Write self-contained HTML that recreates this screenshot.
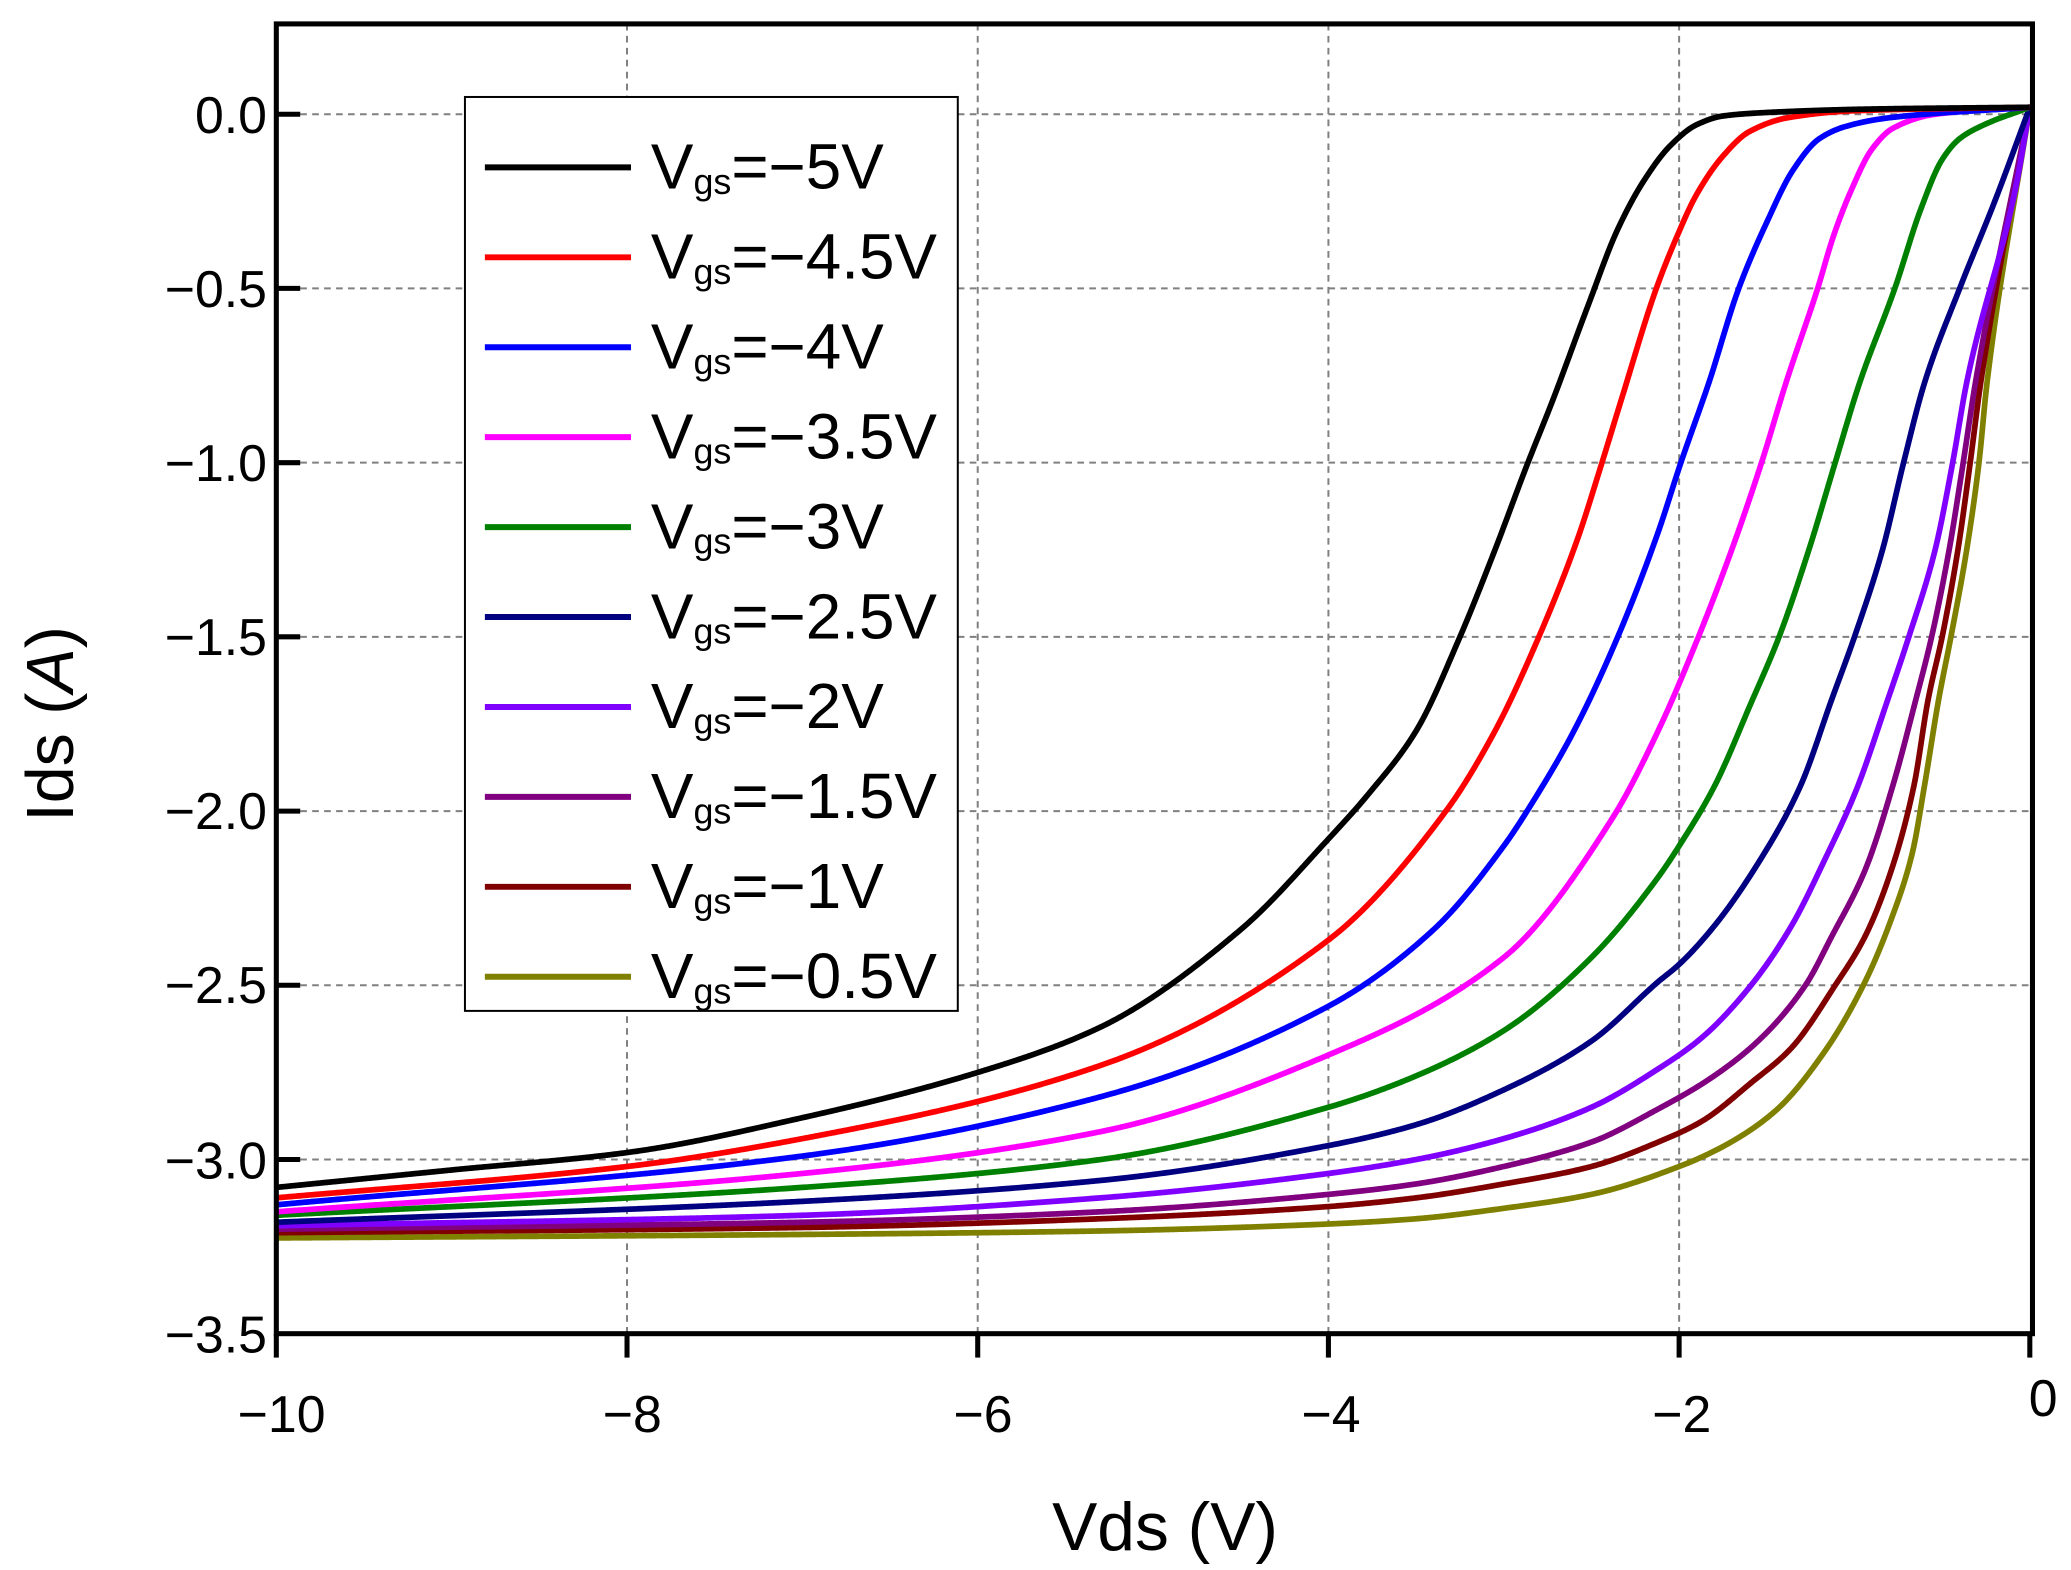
<!DOCTYPE html>
<html><head><meta charset="utf-8"><style>
html,body{margin:0;padding:0;background:#fff;}
svg{display:block;}
text{font-family:"Liberation Sans",Arial,sans-serif;fill:#000;}
</style></head><body>
<svg id="s" width="2071" height="1570" viewBox="0 0 1559 1181.9" preserveAspectRatio="none" xmlns="http://www.w3.org/2000/svg">
<g stroke="#808080" stroke-width="1.5" stroke-dasharray="5,4" fill="none">
<line x1="472" y1="18" x2="472" y2="1004"/><line x1="736" y1="18" x2="736" y2="1004"/><line x1="1000" y1="18" x2="1000" y2="1004"/><line x1="1264" y1="18" x2="1264" y2="1004"/>
<line x1="208" y1="86" x2="1530" y2="86"/><line x1="208" y1="217.1" x2="1530" y2="217.1"/><line x1="208" y1="348.3" x2="1530" y2="348.3"/><line x1="208" y1="479.4" x2="1530" y2="479.4"/><line x1="208" y1="610.6" x2="1530" y2="610.6"/><line x1="208" y1="741.7" x2="1530" y2="741.7"/><line x1="208" y1="872.9" x2="1530" y2="872.9"/>
</g>
<g id="curves" fill="none" stroke-width="4.3" stroke-linejoin="round" stroke-linecap="butt"></g>
<rect x="208" y="18" width="1322" height="986" fill="none" stroke="#000" stroke-width="3.8"/>
<g stroke="#000" stroke-width="3.8">
<line x1="208" y1="86" x2="226" y2="86"/><line x1="208" y1="217.1" x2="226" y2="217.1"/><line x1="208" y1="348.3" x2="226" y2="348.3"/><line x1="208" y1="479.4" x2="226" y2="479.4"/><line x1="208" y1="610.6" x2="226" y2="610.6"/><line x1="208" y1="741.7" x2="226" y2="741.7"/><line x1="208" y1="872.9" x2="226" y2="872.9"/>
<line x1="208" y1="1004" x2="208" y2="1022"/><line x1="472" y1="1004" x2="472" y2="1022"/><line x1="736" y1="1004" x2="736" y2="1022"/><line x1="1000" y1="1004" x2="1000" y2="1022"/><line x1="1264" y1="1004" x2="1264" y2="1022"/><line x1="1528" y1="1004" x2="1528" y2="1022"/>
</g>
<g font-size="39" text-anchor="end">
<text x="201" y="100">0.0</text><text x="201" y="231">−0.5</text><text x="201" y="362">−1.0</text><text x="201" y="493">−1.5</text><text x="201" y="624">−2.0</text><text x="201" y="755">−2.5</text><text x="201" y="887">−3.0</text><text x="201" y="1018">−3.5</text>
</g>
<g font-size="39" text-anchor="middle">
<text x="212" y="1078">−10</text><text x="476" y="1078">−8</text><text x="740" y="1078">−6</text><text x="1002" y="1078">−4</text><text x="1266" y="1078">−2</text><text x="1538" y="1066">0</text>
</g>
<text x="877" y="1167" font-size="51" text-anchor="middle">Vds (V)</text>
<text transform="translate(55,545) rotate(-90)" font-size="50" text-anchor="middle">Ids (<tspan font-style="italic">A</tspan>)</text>
<rect x="350" y="73" width="371" height="688" fill="#fff" stroke="#000" stroke-width="1.5"/>
<g id="legend"></g>
</svg>
<script>
var X=function(v){return 1528+132*v;}, Y=function(i){return 86-262.3*i;};
var C=[
["#000000","−5V",[[0,0.02],[-0.9,0.015],[-1.5,0.005],[-1.75,-0.005],[-1.9,-0.03],[-2.05,-0.09],[-2.2,-0.19],[-2.35,-0.33],[-2.52,-0.55],[-2.72,-0.82],[-2.87,-1.01],[-3.05,-1.25],[-3.25,-1.5],[-3.5,-1.77],[-3.77,-1.95],[-4,-2.08],[-4.5,-2.34],[-5.3,-2.62],[-6,-2.75],[-7,-2.88],[-8,-2.98],[-9,-3.03],[-10,-3.08]]],
["#ff0000","−4.5V",[[0,0.02],[-1,0.01],[-1.38,-0.01],[-1.6,-0.05],[-1.75,-0.12],[-1.9,-0.23],[-2.02,-0.36],[-2.13,-0.5],[-2.33,-0.82],[-2.44,-1.0],[-2.58,-1.22],[-2.8,-1.5],[-3.05,-1.77],[-3.33,-2.0],[-4,-2.37],[-5.3,-2.73],[-7,-2.94],[-8,-3.02],[-10,-3.11]]],
["#0000ff","−4V",[[0,0.02],[-0.8,-0.01],[-1.05,-0.035],[-1.2,-0.07],[-1.35,-0.16],[-1.5,-0.31],[-1.66,-0.5],[-1.83,-0.77],[-1.99,-1.0],[-2.12,-1.2],[-2.35,-1.5],[-2.6,-1.77],[-2.83,-1.97],[-3,-2.1],[-3.4,-2.34],[-4,-2.56],[-5.3,-2.82],[-7,-2.99],[-10,-3.13]]],
["#ff00ff","−3.5V",[[0,0.02],[-0.54,0.0],[-0.78,-0.04],[-0.9,-0.1],[-1.02,-0.22],[-1.12,-0.35],[-1.21,-0.5],[-1.39,-0.77],[-1.53,-1.0],[-1.7,-1.25],[-1.89,-1.5],[-2.12,-1.77],[-2.38,-2.02],[-3,-2.42],[-4,-2.7],[-5.3,-2.92],[-7,-3.04],[-10,-3.15]]],
["#008000","−3V",[[0,0.02],[-0.26,-0.03],[-0.4,-0.07],[-0.5,-0.13],[-0.62,-0.27],[-0.77,-0.5],[-0.97,-0.77],[-1.11,-1.0],[-1.26,-1.25],[-1.43,-1.5],[-1.59,-1.69],[-1.8,-1.93],[-2.0,-2.1],[-2.12,-2.19],[-2.5,-2.42],[-3,-2.63],[-3.5,-2.76],[-4,-2.85],[-5.3,-3.0],[-7,-3.08],[-10,-3.16]]],
["#000080","−2.5V",[[0,0.02],[-0.2,-0.25],[-0.4,-0.5],[-0.6,-0.77],[-0.72,-1.0],[-0.84,-1.25],[-1.0,-1.5],[-1.13,-1.68],[-1.31,-1.93],[-1.55,-2.15],[-1.8,-2.33],[-2.0,-2.44],[-2.12,-2.49],[-2.5,-2.66],[-3,-2.8],[-3.5,-2.9],[-4,-2.96],[-5.3,-3.06],[-7,-3.12],[-10,-3.18]]],
["#8000ff","−2V",[[0,0.02],[-0.08,-0.21],[-0.36,-0.77],[-0.44,-1.0],[-0.54,-1.25],[-0.69,-1.5],[-0.81,-1.68],[-0.99,-1.94],[-1.17,-2.14],[-1.36,-2.33],[-1.59,-2.5],[-1.87,-2.65],[-2.12,-2.74],[-2.5,-2.85],[-3,-2.94],[-3.5,-3.0],[-4,-3.04],[-5.3,-3.11],[-7,-3.16],[-10,-3.19]]],
["#800080","−1.5V",[[0,0.02],[-0.31,-0.77],[-0.38,-1.0],[-0.46,-1.25],[-0.56,-1.5],[-0.65,-1.68],[-0.78,-1.925],[-0.94,-2.17],[-1.13,-2.36],[-1.28,-2.5],[-1.55,-2.66],[-1.83,-2.77],[-2.12,-2.855],[-2.5,-2.95],[-3,-3.02],[-3.5,-3.07],[-4,-3.1],[-5.3,-3.15],[-7,-3.18],[-10,-3.2]]],
["#800000","−1V",[[0,0.02],[-0.28,-0.77],[-0.34,-1.0],[-0.41,-1.25],[-0.5,-1.5],[-0.58,-1.68],[-0.66,-1.925],[-0.79,-2.17],[-0.94,-2.36],[-1.11,-2.5],[-1.36,-2.68],[-1.59,-2.78],[-1.87,-2.89],[-2.12,-2.95],[-2.5,-3.02],[-3,-3.07],[-3.5,-3.11],[-4,-3.135],[-5.3,-3.17],[-7,-3.195],[-10,-3.21]]],
["#808000","−0.5V",[[0,0.02],[-0.244,-0.77],[-0.29,-1.0],[-0.36,-1.25],[-0.45,-1.5],[-0.52,-1.68],[-0.6,-1.925],[-0.67,-2.12],[-0.79,-2.31],[-0.94,-2.49],[-1.17,-2.69],[-1.45,-2.86],[-1.74,-2.96],[-2.0,-3.02],[-2.5,-3.1],[-3,-3.14],[-3.5,-3.17],[-4,-3.185],[-5.3,-3.205],[-7,-3.215],[-10,-3.225]]]
];
function mono(pts){
 var p=pts.slice().sort(function(a,b){return a[0]-b[0];});
 var n=p.length,xs=p.map(function(a){return a[0];}),ys=p.map(function(a){return a[1];});
 var d=[],m=[];
 for(var i=0;i<n-1;i++){d.push((ys[i+1]-ys[i])/(xs[i+1]-xs[i]));}
 m[0]=d[0];m[n-1]=d[n-2];
 for(i=1;i<n-1;i++){ if(d[i-1]*d[i]<=0)m[i]=0; else { var w1=2*(xs[i+1]-xs[i])+(xs[i]-xs[i-1]),w2=(xs[i+1]-xs[i])+2*(xs[i]-xs[i-1]); m[i]=(w1+w2)/(w1/d[i-1]+w2/d[i]); } }
 var out="";
 for(i=0;i<n-1;i++){
  var h=xs[i+1]-xs[i],steps=Math.max(4,Math.ceil(h/0.01));
  for(var s=(i==0?0:1);s<=steps;s++){
   var t=s/steps,t2=t*t,t3=t2*t;
   var y=(2*t3-3*t2+1)*ys[i]+(t3-2*t2+t)*h*m[i]+(-2*t3+3*t2)*ys[i+1]+(t3-t2)*h*m[i+1];
   var x=xs[i]+t*h;
   out+=(out?"L":"M")+X(x).toFixed(2)+","+Y(y).toFixed(2);
  }
 }
 return out;
}
var NS="http://www.w3.org/2000/svg",g=document.getElementById("curves"),lg=document.getElementById("legend");
for(var k=C.length-1;k>=0;k--){
 var e=document.createElementNS(NS,"path");e.setAttribute("d",mono(C[k][2]));e.setAttribute("stroke",C[k][0]);g.appendChild(e);
}
C.forEach(function(c,k){
 var y=126+67.7*k;
 var l=document.createElementNS(NS,"line");
 l.setAttribute("x1",365);l.setAttribute("x2",475);l.setAttribute("y1",y);l.setAttribute("y2",y);
 l.setAttribute("stroke",c[0]);l.setAttribute("stroke-width",4.5);lg.appendChild(l);
 var t=document.createElementNS(NS,"text");
 t.setAttribute("x",490);t.setAttribute("y",y+16);t.setAttribute("font-size",48);
 t.innerHTML='V<tspan font-size="27" dy="4">gs</tspan><tspan dy="-4">='+c[1]+'</tspan>';
 lg.appendChild(t);
});
</script>
</body></html>
